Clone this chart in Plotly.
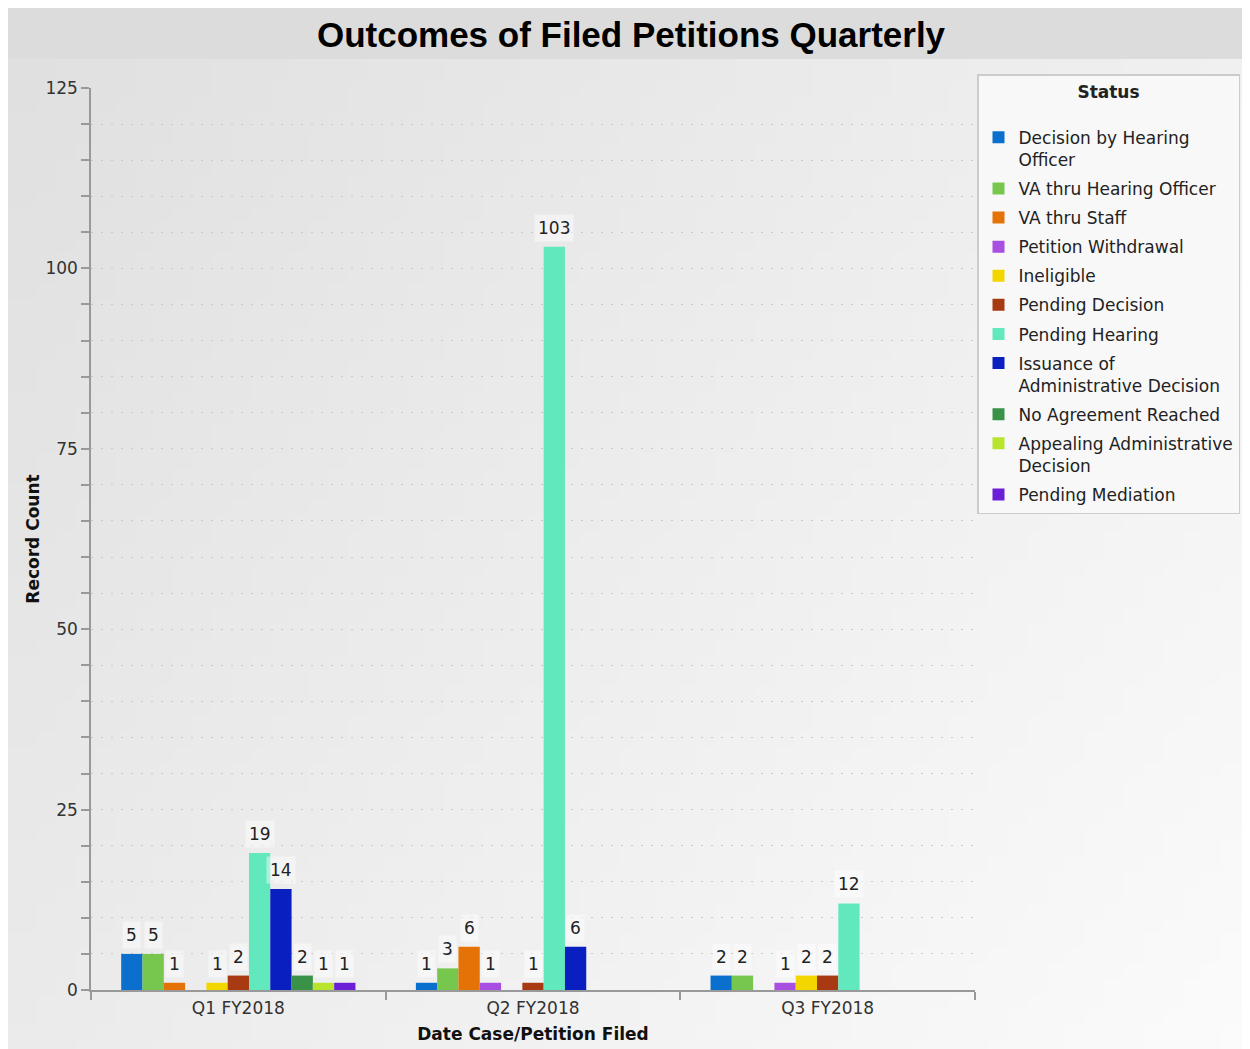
import base64
import struct
import zlib

import plotly.graph_objects as go

# ---------------- data ----------------
quarters = ["Q1 FY2018", "Q2 FY2018", "Q3 FY2018"]

statuses = [
    "Decision by Hearing<br>Officer",
    "VA thru Hearing Officer",
    "VA thru Staff",
    "Petition Withdrawal",
    "Ineligible",
    "Pending Decision",
    "Pending Hearing",
    "Issuance of<br>Administrative Decision",
    "No Agreement Reached",
    "Appealing Administrative<br>Decision",
    "Pending Mediation",
]

decision_by_hearing_officer = [5, 1, 2]
va_thru_hearing_officer = [5, 3, 2]
va_thru_staff = [1, 6, 0]
petition_withdrawal = [0, 1, 1]
ineligible = [1, 0, 2]
pending_decision = [2, 1, 2]
pending_hearing = [19, 103, 12]
issuance_admin_decision = [14, 6, 0]
no_agreement_reached = [2, 0, 0]
appealing_admin_decision = [1, 0, 0]
pending_mediation = [1, 0, 0]

series_values = [
    decision_by_hearing_officer,
    va_thru_hearing_officer,
    va_thru_staff,
    petition_withdrawal,
    ineligible,
    pending_decision,
    pending_hearing,
    issuance_admin_decision,
    no_agreement_reached,
    appealing_admin_decision,
    pending_mediation,
]

colors = [
    "#0b6fce", "#77c74f", "#e57206", "#a84ee0", "#f3d600", "#a73a12",
    "#62e8bd", "#0a1fbf", "#3a9148", "#b8e42e", "#6a1ed6",
]

y_ticks = [0, 25, 50, 75, 100, 125]

# ---------------- layout constants (page has an 8px body margin) ----------------
OFF = 8
W, H = 1250 - OFF, 1049 - OFF
L, R, T, B = 91 - OFF, 975 - OFF, 88 - OFF, 990 - OFF
FONT = "DejaVu Sans, Verdana, sans-serif"
TITLE_FONT = "Liberation Sans, Arial, Helvetica, sans-serif"
BARGAP = 0.205


def gradient_png(w, h):
    rows = []
    for yy in range(h):
        fy = yy / (h - 1)
        row = bytearray([0])
        for xx in range(w):
            fx = xx / (w - 1)
            v = int(round(224 + 27 * (0.6 * fx + 0.4 * fy)))
            row.append(min(255, v))
        rows.append(bytes(row))
    raw = b"".join(rows)

    def chunk(t, d):
        return struct.pack(">I", len(d)) + t + d + struct.pack(">I", zlib.crc32(t + d) & 0xFFFFFFFF)

    return (b"\x89PNG\r\n\x1a\n"
            + chunk(b"IHDR", struct.pack(">IIBBBBB", w, h, 8, 0, 0, 0, 0))
            + chunk(b"IDAT", zlib.compress(raw, 9))
            + chunk(b"IEND", b""))


bg_uri = "data:image/png;base64," + base64.b64encode(gradient_png(64, 64)).decode()

pw, ph = R - L, B - T


def px(x):
    return (x - L) / pw


def py(y):
    return (B - y) / ph


n_series = len(series_values)
slot_px = pw / len(quarters) * (1 - BARGAP) / n_series

fig = go.Figure()
annotations = []
for i, (name, vals, col) in enumerate(zip(statuses, series_values, colors)):
    fig.add_trace(go.Bar(
        name=name,
        x=quarters,
        y=vals,
        marker=dict(color=col, line=dict(width=0)),
        legendgroup=name,
        hoverinfo="x+y+name",
    ))
    for q, v in zip(quarters, vals):
        if v:
            annotations.append(dict(
                x=q, y=v, xref="x", yref="y",
                text=str(v), showarrow=False,
                xshift=(i - (n_series - 1) / 2) * slot_px,
                yanchor="bottom", yshift=5,
                bgcolor="rgba(255,255,255,0.45)", borderpad=3,
                font=dict(family=FONT, size=17, color="#222222"),
            ))

fig.update_layout(
    width=W,
    height=H,
    margin=dict(l=L, r=W - R, t=T, b=H - B, pad=0, autoexpand=False),
    paper_bgcolor="white",
    plot_bgcolor="rgba(0,0,0,0)",
    barmode="group",
    bargap=BARGAP,
    bargroupgap=0,
    font=dict(family=FONT, size=17, color="#333333"),
    title=dict(
        text="<b>Outcomes of Filed Petitions Quarterly</b>",
        font=dict(family=TITLE_FONT, size=35, color="#000000"),
        x=(631 - OFF) / W, xref="container", xanchor="center",
        y=1 - (35 - OFF) / H, yref="container", yanchor="middle",
    ),
    legend=dict(
        title=dict(text="<b>Status</b><br>", side="top center",
                   font=dict(family=FONT, size=17, color="#222222")),
        font=dict(family=FONT, size=17, color="#222222"),
        bgcolor="#f8f8f8",
        bordercolor="#cccccc",
        borderwidth=1.5,
        xref="container", yref="container",
        x=(1240 - OFF) / W, xanchor="right",
        y=1 - (74 - OFF) / H, yanchor="top",
        valign="top",
        tracegroupgap=4,
        traceorder="grouped",
        itemclick=False,
    ),
    annotations=annotations,
    images=[dict(
        source=bg_uri,
        xref="paper", yref="paper",
        x=px(0), y=py(51),
        sizex=px(W) - px(0), sizey=py(51) - py(H),
        xanchor="left", yanchor="top",
        sizing="stretch", layer="below",
    )],
    shapes=[dict(
        type="rect", xref="paper", yref="paper",
        x0=px(0), x1=px(W), y0=py(51), y1=py(0),
        fillcolor="#dcdcdc", line=dict(width=0), layer="below",
    )],
)

fig.update_xaxes(
    type="category",
    automargin=False,
    showline=True, linecolor="#999999", linewidth=1.5,
    ticks="outside", tickson="boundaries", ticklen=8, tickcolor="#999999", tickwidth=1.5,
    ticklabelstandoff=2,
    showgrid=False,
    tickfont=dict(family=FONT, size=17, color="#333333"),
    title=dict(text="<b>Date Case/Petition Filed</b>", standoff=11,
               font=dict(family=FONT, size=17, color="#111111")),
)

fig.update_yaxes(
    range=[0, 125],
    automargin=False,
    tickvals=y_ticks,
    showline=True, linecolor="#999999", linewidth=1.5,
    ticks="outside", ticklen=8, tickcolor="#999999", tickwidth=1.5,
    showgrid=True, gridcolor="#cacaca", gridwidth=1, griddash="2px,8px",
    zeroline=False,
    minor=dict(dtick=5, ticks="outside", ticklen=8, tickcolor="#999999", tickwidth=1.5,
               showgrid=True, gridcolor="#cacaca", gridwidth=1, griddash="2px,8px"),
    tickfont=dict(family=FONT, size=17, color="#333333"),
    title=dict(text="<b>Record Count</b>", standoff=1,
               font=dict(family=FONT, size=17, color="#111111")),
)

fig.write_html("out.html")
